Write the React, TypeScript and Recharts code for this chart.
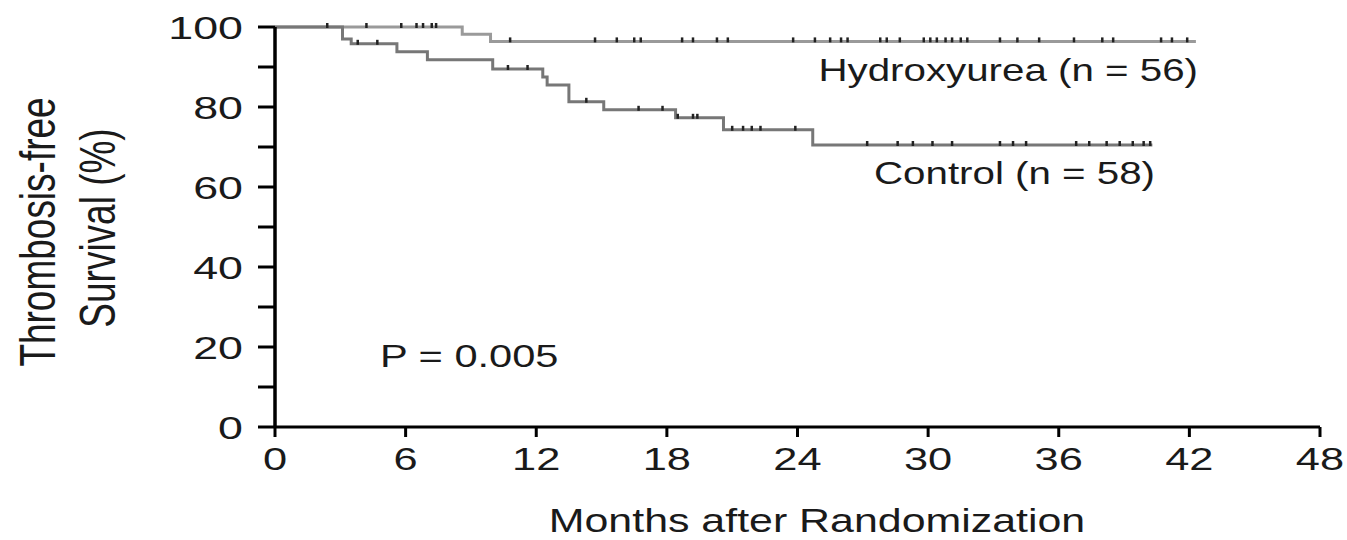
import React from "react";
import { ComposedChart, Line, Scatter, XAxis, YAxis } from "recharts";

// Kaplan-Meier steps: [month, survival %]
const hydroxyMonths = [0, 8.6, 9.9, 42.3];
const hydroxySurvival = [100, 98.2, 96.4, 96.4];

const controlMonths = [0, 3.1, 3.5, 5.6, 7.0, 10.0, 12.3, 12.5, 13.5, 15.1, 18.4, 20.6, 24.7, 40.3];
const controlSurvival = [100, 97.0, 95.8, 93.8, 91.8, 89.5, 87.5, 85.5, 81.3, 79.3, 77.3, 74.3, 70.5, 70.5];

// censored observations (months)
const hydroxyCensored = [
  2.4, 4.2, 5.8, 6.5, 6.8, 7.2, 7.4, 10.8, 14.7, 15.7, 16.5, 16.8, 18.7, 19.2, 20.3, 20.8,
  23.8, 24.8, 25.5, 26.0, 26.3, 27.8, 28.1, 28.7, 29.8, 30.1, 30.4, 30.8, 31.1, 31.5, 31.8,
  33.3, 34.1, 35.1, 36.7, 38.0, 38.5, 40.7, 41.2, 41.9,
];
const controlCensored = [
  3.8, 4.7, 10.7, 11.6, 14.3, 16.7, 17.8, 18.5, 19.2, 19.4, 21.0, 21.5, 21.9, 22.3, 23.9,
  27.2, 28.6, 29.3, 30.2, 31.1, 33.3, 33.9, 34.5, 36.8, 37.4, 38.2, 38.8, 39.4, 39.9, 40.2,
];

const xTicks = [0, 6, 12, 18, 24, 30, 36, 42, 48];
const yTicks = [0, 10, 20, 30, 40, 50, 60, 70, 80, 90, 100];
const yLabelTicks = [0, 20, 40, 60, 80, 100];

const FONT = "'Liberation Sans', Arial, sans-serif";
const TEXT = "#1a1a1a";

const toSteps = (months: number[], vals: number[]) =>
  months.map((m, i) => ({ month: m, survival: vals[i] }));

const survivalAt = (months: number[], vals: number[], t: number) => {
  let v = vals[0];
  months.forEach((m, i) => {
    if (m <= t) v = vals[i];
  });
  return v;
};

const hydroxyData = toSteps(hydroxyMonths, hydroxySurvival);
const controlData = toSteps(controlMonths, controlSurvival);
const hydroxyCensorData = hydroxyCensored.map((t) => ({
  month: t,
  survival: survivalAt(hydroxyMonths, hydroxySurvival, t),
}));
const controlCensorData = controlCensored.map((t) => ({
  month: t,
  survival: survivalAt(controlMonths, controlSurvival, t),
}));

const CensorMark = (props: any) => {
  const { cx, cy } = props;
  if (cx == null || cy == null) return <g />;
  return <line x1={cx} x2={cx} y1={cy - 4} y2={cy + 1} stroke="#222" strokeWidth={2.5} />;
};

const YTick = (props: any) => {
  const { x, y, payload } = props;
  if (!yLabelTicks.includes(payload.value)) return <g />;
  return (
    <text
      transform={`translate(${x - 15},${y}) scale(1.4,1)`}
      textAnchor="end"
      dy="0.36em"
      fontSize={32}
      fontFamily={FONT}
      fill={TEXT}
    >
      {payload.value}
    </text>
  );
};

const XTick = (props: any) => {
  const { x, y, payload } = props;
  return (
    <text
      transform={`translate(${x},${y + 33}) scale(1.4,1)`}
      textAnchor="middle"
      fontSize={31}
      fontFamily={FONT}
      fill={TEXT}
    >
      {payload.value}
    </text>
  );
};

export default function App() {
  return (
    <div style={{ position: "absolute", left: 0, top: 0, background: "#fff" }}>
      <ComposedChart
        width={1347}
        height={540}
        margin={{ top: 27, right: 27, bottom: 53, left: 215 }}
      >
        <XAxis
          type="number"
          dataKey="month"
          domain={[0, 48]}
          ticks={xTicks}
          interval={0}
          tickSize={10}
          tickMargin={0}
          axisLine={{ stroke: "#000", strokeWidth: 3 }}
          tickLine={{ stroke: "#000", strokeWidth: 3 }}
          tick={<XTick />}
          height={60}
          allowDuplicatedCategory={false}
        />
        <YAxis
          type="number"
          dataKey="survival"
          domain={[0, 100]}
          ticks={yTicks}
          interval={0}
          tickSize={17}
          tickMargin={0}
          axisLine={{ stroke: "#000", strokeWidth: 3.5 }}
          tickLine={{ stroke: "#000", strokeWidth: 3 }}
          tick={<YTick />}
          width={60}
        />
        <Line
          data={hydroxyData}
          dataKey="survival"
          type="stepAfter"
          stroke="#9a9a9a"
          strokeWidth={3}
          dot={false}
          isAnimationActive={false}
        />
        <Line
          data={controlData}
          dataKey="survival"
          type="stepAfter"
          stroke="#777"
          strokeWidth={3}
          dot={false}
          isAnimationActive={false}
        />
        <Scatter
          data={hydroxyCensorData}
          dataKey="survival"
          shape={<CensorMark />}
          isAnimationActive={false}
        />
        <Scatter
          data={controlCensorData}
          dataKey="survival"
          shape={<CensorMark />}
          isAnimationActive={false}
        />
        <text
          transform="translate(55,232) scale(1.35,1) rotate(-90)"
          textAnchor="middle"
          fontSize={37}
          fontFamily={FONT}
          fill={TEXT}
        >
          Thrombosis-free
        </text>
        <text
          transform="translate(115,228) scale(1.35,1) rotate(-90)"
          textAnchor="middle"
          fontSize={37}
          fontFamily={FONT}
          fill={TEXT}
        >
          Survival (%)
        </text>
        <text
          transform="translate(817,532) scale(1.3,1)"
          textAnchor="middle"
          fontSize={33}
          fontFamily={FONT}
          fill={TEXT}
        >
          Months after Randomization
        </text>
        <text
          transform="translate(1198,81) scale(1.3,1)"
          textAnchor="end"
          fontSize={31}
          fontFamily={FONT}
          fill={TEXT}
        >
          Hydroxyurea (n = 56)
        </text>
        <text
          transform="translate(1155,184) scale(1.3,1)"
          textAnchor="end"
          fontSize={31}
          fontFamily={FONT}
          fill={TEXT}
        >
          Control (n = 58)
        </text>
        <text
          transform="translate(380,367) scale(1.3,1)"
          textAnchor="start"
          fontSize={32}
          fontFamily={FONT}
          fill={TEXT}
        >
          P = 0.005
        </text>
      </ComposedChart>
    </div>
  );
}
